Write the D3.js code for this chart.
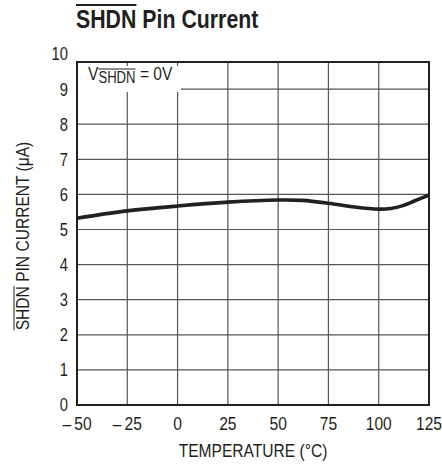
<!DOCTYPE html>
<html><head><meta charset="utf-8">
<script src="https://cdn.jsdelivr.net/npm/d3@7"></script>
<style>
body{margin:0;background:#fff}
svg{display:block}
text{font-family:"Liberation Sans",Arial,sans-serif;fill:#231f20}
</style>
</head><body><svg id="c" width="442" height="464"></svg>
<script>
// ---- data ----
const temperature = [-50, -25, 0, 25, 50, 62, 75, 88, 100, 106, 112, 118, 125];
const current     = [5.32, 5.53, 5.67, 5.78, 5.84, 5.83, 5.75, 5.64, 5.58, 5.60, 5.68, 5.82, 5.98];
const xTicks = [-50, -25, 0, 25, 50, 75, 100, 125];
const xTickLabels = ["\u2013\u200950", "\u2013\u200925", "0", "25", "50", "75", "100", "125"];
const yTicks = [0, 1, 2, 3, 4, 5, 6, 7, 8, 9, 10];
const yTickLabels = ["0", "1", "2", "3", "4", "5", "6", "7", "8", "9", "10"];
const titleMain = "SHDN";
const titleRest = " Pin Current";
const xTitle = "TEMPERATURE (\u00B0C)";
const yTitleOver = "SHDN";
const yTitleRest = " PIN CURRENT (\u03BCA)";

// ---- layout ----
const W = 442, H = 464;
const L = 77, R = 429, B = 405, T = 62;
const ink = "#231f20";
const NARROW = 0.82;

const svg = d3.select("#c");
svg.append("rect").attr("width", W).attr("height", H).attr("fill", "#fff");

const x = d3.scaleLinear().domain([-50, 125]).range([L, R]);
const y = d3.scaleLinear().domain([0, 10]).range([B, B - 351]);

// narrow text helper: group at (px,py), horizontally compressed
function ntext(parent, px, py, rot) {
  const gg = parent.append("g")
    .attr("transform", `translate(${px},${py})` + (rot ? ` rotate(${rot})` : "") + ` scale(${NARROW},1)`);
  return gg.append("text");
}

// grid
const g = svg.append("g");
g.selectAll("line.vx").data(xTicks.slice(1, -1)).join("line")
  .attr("x1", d => x(d)).attr("x2", d => x(d)).attr("y1", T).attr("y2", B)
  .attr("stroke", "#555").attr("stroke-width", 1.2);
g.selectAll("line.hy").data(yTicks.slice(1, -1)).join("line")
  .attr("x1", L).attr("x2", R).attr("y1", d => y(d)).attr("y2", d => y(d))
  .attr("stroke", "#555").attr("stroke-width", 1.2);

// annotation box (covers grid)
svg.append("rect").attr("x", L + 1).attr("y", T + 4).attr("width", 103).attr("height", 26).attr("fill", "#fff");
const ann = ntext(svg, 88, 80).attr("font-size", 19);
ann.append("tspan").text("V");
ann.append("tspan").attr("font-size", 16).attr("dy", 3).text("SHDN");
ann.append("tspan").attr("dy", -3).text(" = 0V");

// frame
svg.append("rect").attr("x", L).attr("y", T).attr("width", R - L).attr("height", B - T)
  .attr("fill", "none").attr("stroke", ink).attr("stroke-width", 2);

// curve
const line = d3.line().x((d, i) => x(temperature[i])).y(d => y(d)).curve(d3.curveCatmullRom.alpha(0.5));
svg.append("path").datum(current).attr("d", line)
  .attr("fill", "none").attr("stroke", ink).attr("stroke-width", 3.6).attr("stroke-linecap", "butt");

// y tick labels
yTicks.forEach((d, i) => {
  ntext(svg, 68, y(d)).attr("dy", "0.36em").attr("text-anchor", "end").attr("font-size", 18)
    .text(yTickLabels[i]);
});

// x tick labels
xTicks.forEach((d, i) => {
  ntext(svg, x(d), 430).attr("text-anchor", "middle").attr("font-size", 19)
    .text(xTickLabels[i]);
});

// x title
ntext(svg, (L + R) / 2, 457).attr("text-anchor", "middle").attr("font-size", 19).text(xTitle);

// y title
const yt = ntext(svg, 29, 236, -90).attr("text-anchor", "middle").attr("font-size", 19);
yt.append("tspan").text(yTitleOver);
yt.append("tspan").text(yTitleRest);

// title
const tt = ntext(svg, 76, 28).attr("font-size", 26).attr("font-weight", "bold");
tt.append("tspan").text(titleMain);
tt.append("tspan").text(titleRest);

// overlines (measured in text units, then compressed)
{
  const w = tt.node().getSubStringLength(0, titleMain.length) * NARROW;
  svg.append("line").attr("x1", 76).attr("x2", 76 + w).attr("y1", 5).attr("y2", 5)
    .attr("stroke", ink).attr("stroke-width", 1.8);
}
{
  const n = ann.node();
  const s = n.getStartPositionOfChar(1).x * NARROW;
  const w = n.getSubStringLength(1, 4) * NARROW;
  svg.append("line").attr("x1", 88 + s).attr("x2", 88 + s + w).attr("y1", 69).attr("y2", 69)
    .attr("stroke", ink).attr("stroke-width", 1);
}
{
  const n = yt.node();
  const total = n.getComputedTextLength() * NARROW;
  const w = n.getSubStringLength(0, yTitleOver.length) * NARROW;
  const y0 = 236 + total / 2;
  svg.append("line").attr("x1", 14).attr("x2", 14).attr("y1", y0).attr("y2", y0 - w)
    .attr("stroke", ink).attr("stroke-width", 1);
}
</script>
</body></html>
